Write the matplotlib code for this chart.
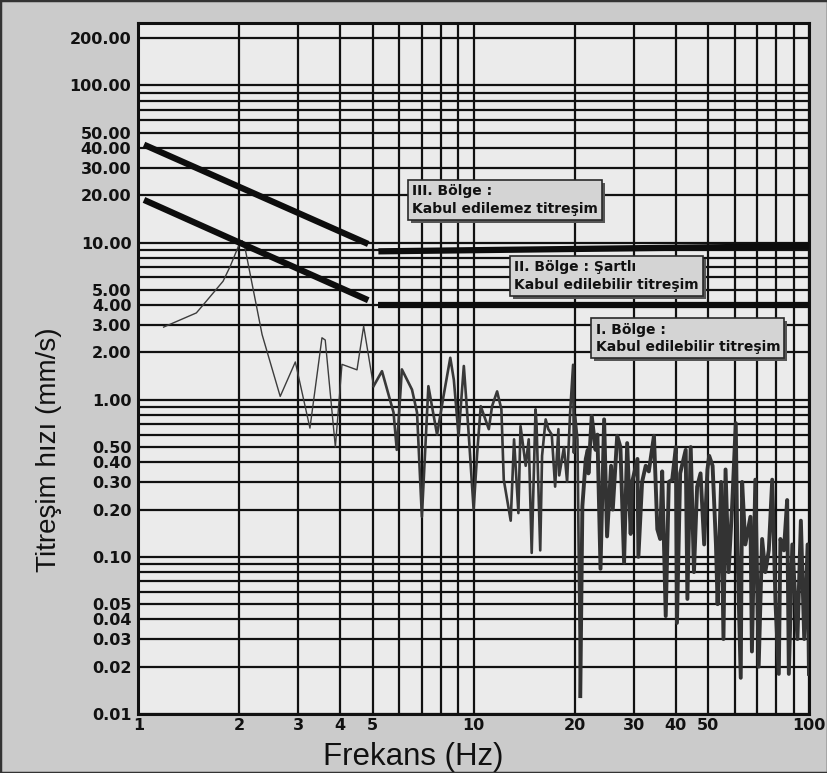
import matplotlib
matplotlib.use('Agg')
import matplotlib.pyplot as plt
import matplotlib.patheffects as pe
from matplotlib.patches import Rectangle

# spectrum (Hz, mm/s)
freq = [1.19, 1.49, 1.55, 1.79, 1.88, 1.99, 2.04, 2.08, 2.34, 2.65,
        2.94, 3.25, 3.53, 3.61, 3.87, 4.05, 4.49, 4.70, 5.03,
        5.33, 5.77, 5.90, 6.11, 6.55, 6.78, 7.01, 7.33, 7.78, 8.13,
        8.52, 8.73, 9.02, 9.35, 9.66, 10.0, 10.25, 10.5, 11.1, 11.35,
        11.75, 12.1, 12.3, 12.9, 13.2, 13.6, 13.8, 14.3, 14.6, 14.9,
        15.3, 15.4, 15.8, 16.0, 16.4, 16.7, 17.1, 17.5, 17.9, 18.0,
        18.6, 19.0, 19.4, 19.8, 19.9, 20.1, 20.4, 20.8,
        21.1, 21.6, 21.9, 22.0, 22.5, 23.1, 23.4, 23.9, 24.5, 25.0,
        25.7, 26.0, 26.8, 27.4, 28.1, 28.7, 29.4, 29.7, 30.8, 31.0,
        31.8, 32.6, 33.3, 34.5, 35.3, 36.0, 36.5, 37.4, 38.2, 39.1,
        40.1, 40.4, 41.3, 42.9, 43.4, 44.4, 45.4, 46.4, 47.5, 48.7,
        49.8, 50.4, 51.6, 52.8, 53.4, 54.7, 55.6, 56.4, 57.6, 59.0,
        60.5, 61.1, 62.6, 63.2, 64.6, 66.9, 67.6, 69.2, 70.8, 72.5,
        74.1, 75.9, 77.7, 79.5, 81.3, 82.2, 84.2, 86.1, 87.1, 89.2,
        92.4, 94.6, 96.8, 99.1, 100.0]
vel = [2.9, 3.57, 3.94, 5.68, 7.07, 9.5, 10.3, 9.3, 2.6, 1.05,
       1.74, 0.66, 2.48, 2.4, 0.5, 1.68, 1.55, 2.94, 1.22,
       1.52, 0.83, 0.48, 1.56, 1.16, 0.83, 0.18, 1.22, 0.60, 1.05,
       1.85, 1.34, 0.59, 1.64, 0.62, 0.20, 0.46, 0.91, 0.65, 0.91,
       1.13, 0.87, 0.31, 0.17, 0.56, 0.19, 0.68, 0.38, 0.56, 0.106,
       0.87, 0.71, 0.11, 0.44, 0.75, 0.65, 0.60, 0.28, 0.65, 0.33,
       0.50, 0.30, 0.83, 1.67, 0.46, 0.78, 0.56, 0.013,
       0.21, 0.42, 0.48, 0.34, 0.79, 0.48, 0.6, 0.084, 0.75, 0.135,
       0.38, 0.2, 0.59, 0.5, 0.092, 0.53, 0.14, 0.3, 0.42, 0.10,
       0.3, 0.38, 0.35, 0.59, 0.15, 0.13, 0.35, 0.042, 0.3, 0.31,
       0.5, 0.038, 0.34, 0.48, 0.054, 0.5, 0.08, 0.28, 0.34, 0.12,
       0.36, 0.44, 0.38, 0.12, 0.05, 0.3, 0.03, 0.36, 0.08, 0.21,
       0.71, 0.13, 0.017, 0.3, 0.12, 0.18, 0.025, 0.31, 0.02, 0.13,
       0.08, 0.11, 0.31, 0.05, 0.018, 0.13, 0.11, 0.23, 0.018, 0.12,
       0.03, 0.17, 0.03, 0.12, 0.018]

# zone limit lines
upper_slope_f = [1.04, 4.85]
upper_slope_v = [42.0, 9.8]
lower_slope_f = [1.04, 4.85]
lower_slope_v = [18.7, 4.3]
upper_flat_f = [5.2, 100]
upper_flat_v = [8.8, 9.5]
lower_flat_f = [5.2, 100]
lower_flat_v = [4.0, 4.0]

xticks = [1, 2, 3, 4, 5, 10, 20, 30, 40, 50, 100]
xminor = [6, 7, 8, 9, 60, 70, 80, 90]
yticks = [0.01, 0.02, 0.03, 0.04, 0.05, 0.1, 0.2, 0.3, 0.4, 0.5,
          1, 2, 3, 4, 5, 10, 20, 30, 40, 50, 100, 200]
yminor = [0.06, 0.07, 0.08, 0.09, 0.6, 0.7, 0.8, 0.9,
          6, 7, 8, 9, 60, 70, 80, 90]

zone_texts = ['III. Bölge :\nKabul edilemez titreşim',
              'II. Bölge : Şartlı\nKabul edilebilir titreşim',
              'I. Bölge :\nKabul edilebilir titreşim']
zone_pos = [(6.55, 23.5), (13.2, 7.7), (23.1, 3.1)]

fig = plt.figure(figsize=(8.28, 7.73), dpi=100, facecolor='#cbcbcb')
ax = fig.add_axes([0.167, 0.0763, 0.810, 0.894])
ax.set_facecolor('#ebebeb')
ax.set_xscale('log')
ax.set_yscale('log')
ax.set_xlim(1, 100)
ax.set_ylim(0.01, 250)

ax.set_xticks(xticks)
ax.set_xticklabels([str(t) for t in xticks])
ax.set_xticks(xminor, minor=True)
ax.set_yticks(yticks)
ax.set_yticklabels(['%.2f' % t for t in yticks])
ax.set_yticks(yminor, minor=True)
ax.tick_params(which='both', length=0)
ax.tick_params(axis='y', pad=5)
ax.tick_params(axis='x', pad=3)
for lab in ax.get_xticklabels() + ax.get_yticklabels():
    lab.set_fontfamily('DejaVu Sans')
    lab.set_fontweight('bold')
    lab.set_fontsize(11.5)
    lab.set_color('#111111')
ax.xaxis.set_minor_formatter(plt.NullFormatter())
ax.yaxis.set_minor_formatter(plt.NullFormatter())
ax.grid(True, which='both', color='#111111', lw=1.6)
ax.set_axisbelow(True)
for s in ax.spines.values():
    s.set_linewidth(2.2)
    s.set_color('#111111')

# spectrum: thin at low freq, heavier where it gets dense
i1 = freq.index(5.03)
i2 = freq.index(20.8)
ax.plot(freq[:i1 + 1], vel[:i1 + 1], color='#3c3c3c', lw=1.0, zorder=3)
ax.plot(freq[i1:i2 + 1], vel[i1:i2 + 1], color='#383838', lw=1.9, zorder=3)
ax.plot(freq[i2:], vel[i2:], color='#333333', lw=2.8, zorder=3)

for fx, vy in [(upper_slope_f, upper_slope_v), (lower_slope_f, lower_slope_v),
               (upper_flat_f, upper_flat_v), (lower_flat_f, lower_flat_v)]:
    ax.plot(fx, vy, color='#0d0d0d', lw=4.5, solid_capstyle='butt', zorder=4)

for txt, (px, py) in zip(zone_texts, zone_pos):
    t = ax.text(px, py, txt, ha='left', va='top', fontsize=10,
                fontweight='bold', family='DejaVu Sans', color='#111111',
                linespacing=1.3, zorder=6,
                bbox=dict(boxstyle='square,pad=0.3', facecolor='#d4d4d4',
                          edgecolor='#2a2a2a', lw=1.2))
    t.get_bbox_patch().set_path_effects(
        [pe.withSimplePatchShadow(offset=(2, -2), shadow_rgbFace='#555555', alpha=1)])

ax.set_xlabel('Frekans (Hz)', fontsize=22.5, family='Liberation Sans', color='#111111')
ax.xaxis.set_label_coords(0.41, -0.040)
ax.set_ylabel('Titreşim hızı (mm/s)', fontsize=20, family='Liberation Sans', color='#111111')
ax.yaxis.set_label_coords(-0.113, 0.382)

fig.patches.append(Rectangle((0, 0), 1, 1, transform=fig.transFigure, fill=False,
                             edgecolor='#333333', lw=2.5))

fig.savefig('out.png', dpi=100, facecolor=fig.get_facecolor())
